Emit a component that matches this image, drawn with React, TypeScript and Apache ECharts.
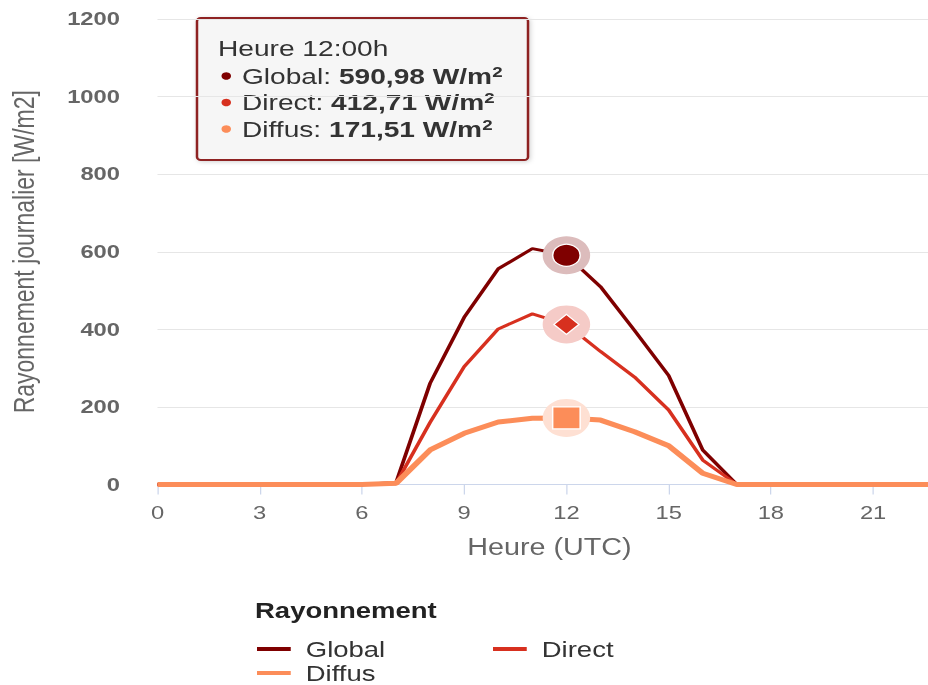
import React, { useEffect, useRef } from "react";
import * as echarts from "echarts";

const HOURS = [0, 1, 2, 3, 4, 5, 6, 7, 8, 9, 10, 11, 12, 13, 14, 15, 16, 17, 18, 19, 20, 21, 22, 23];
const GLOBAL = [0, 0, 0, 0, 0, 0, 0, 5, 261, 431, 556, 608, 590.98, 510, 397, 281, 89, 0, 0, 0, 0, 0, 0, 0];
const DIRECT = [0, 0, 0, 0, 0, 0, 0, 2, 160, 304, 401, 440, 412.71, 343, 277, 192, 63, 0, 0, 0, 0, 0, 0, 0];
const DIFFUS = [0, 0, 0, 0, 0, 0, 0, 3, 89, 132, 161, 171, 171.51, 166, 136, 100, 29, 0, 0, 0, 0, 0, 0, 0];
const NAMES = ["Global", "Direct", "Diffus"];
const COLORS = ["#7f0000", "#d7301f", "#fc8d59"];
const HALOS = ["#dcbcbc", "#f5cbc7", "#fee0d3"];
const SYMBOLS = ["circle", "diamond", "rect"];
const HIGHLIGHT = 12;
const Y_TITLE = "Rayonnement journalier [W/m2]";
const X_TITLE = "Heure (UTC)";
const LEGEND_TITLE = "Rayonnement";
const UNIT = "W/m";

const FONT = "'Liberation Sans', Arial, sans-serif";
const SX = 1.25; // horizontal stretch of the reference picture

function fmt(v: number) {
  return v.toFixed(2).replace(".", ",");
}

export default function App() {
  const ref = useRef<HTMLDivElement>(null);
  useEffect(() => {
    if (!ref.current) return;
    const chart = echarts.init(ref.current, undefined, { renderer: "svg" });
    const values = [GLOBAL, DIRECT, DIFFUS];
    const widths = [3, 3, 5];
    const lineSeries = values.map((vals, i) => ({
      name: NAMES[i],
      type: "line",
      data: HOURS.map((h, k) => [h, vals[k]]),
      symbol: "none",
      lineStyle: { color: COLORS[i], width: widths[i] },
      itemStyle: { color: COLORS[i] },
      z: 2,
    }));
    const haloSeries = values.map((vals, i) => ({
      name: NAMES[i] + "_halo",
      type: "scatter",
      data: [[HOURS[HIGHLIGHT], vals[HIGHLIGHT]]],
      symbol: "circle",
      symbolSize: 38,
      itemStyle: { color: HALOS[i], opacity: 1 },
      z: 3,
      silent: true,
    }));
    const sizes = [22, 20, 22];
    const markerSeries = values.map((vals, i) => ({
      name: NAMES[i] + "_marker",
      type: "scatter",
      data: [[HOURS[HIGHLIGHT], vals[HIGHLIGHT]]],
      symbol: SYMBOLS[i],
      symbolSize: sizes[i],
      itemStyle: { color: COLORS[i], borderColor: "#ffffff", borderWidth: 1.2, opacity: 1 },
      z: 4,
      silent: true,
    }));

    const tipChildren: any[] = [
      {
        type: "rect",
        shape: { x: 157.6, y: 18, width: 264.8, height: 142, r: 3 },
        style: {
          fill: "rgba(247,247,247,0.97)",
          stroke: "#8e2424",
          lineWidth: 2,
          shadowBlur: 4,
          shadowColor: "rgba(0,0,0,0.18)",
          shadowOffsetX: 1,
          shadowOffsetY: 1,
        },
      },
      {
        type: "text",
        x: 174.4,
        y: 48,
        style: {
          text: `Heure ${HOURS[HIGHLIGHT]}:00h`,
          fontSize: 22.5,
          fontFamily: FONT,
          fill: "#333333",
          verticalAlign: "middle",
        },
      },
    ];
    values.forEach((vals, i) => {
      tipChildren.push({
        type: "circle",
        shape: { cx: 181, cy: 76 + i * 26.5, r: 3.8 },
        style: { fill: COLORS[i] },
      });
      tipChildren.push({
        type: "text",
        x: 193.6,
        y: 76 + i * 26.5,
        style: {
          text: `{n|${NAMES[i]}: }{b|${fmt(vals[HIGHLIGHT])} ${UNIT}}{s|2}`,
          verticalAlign: "middle",
          rich: {
            n: { fontSize: 22.5, fontFamily: FONT, fill: "#333333" },
            b: { fontSize: 22.5, fontFamily: FONT, fill: "#333333", fontWeight: "bold" },
            s: { fontSize: 15, fontFamily: FONT, fill: "#333333", fontWeight: "bold", verticalAlign: "top" },
          },
        },
      });
    });

    const legendItem = (i: number, left: number, top: number) => ({
      data: [NAMES[i]],
      left,
      top,
      icon: "rect",
      itemWidth: 27,
      itemHeight: 4,
      itemGap: 0,
      padding: 0,
      textStyle: {
        fontSize: 22,
        lineHeight: 20,
        fontFamily: FONT,
        color: "#333333",
        padding: [0, 0, 0, 7],
      },
      itemStyle: { color: COLORS[i] },
      selectedMode: false,
    });

    chart.setOption({
      animation: false,
      textStyle: { fontFamily: FONT },
      grid: { left: 123.2, right: 0, top: 19, bottom: 200.5 },
      xAxis: {
        type: "value",
        min: 0,
        max: 23,
        interval: 3,
        name: X_TITLE,
        nameLocation: "middle",
        nameGap: 51,
        nameTextStyle: { fontSize: 23, color: "#666666", fontFamily: FONT },
        axisLine: { lineStyle: { color: "#ccd6eb", width: 1 } },
        axisTick: { show: true, length: 10, lineStyle: { color: "#ccd6eb" } },
        axisLabel: { fontSize: 19, color: "#666666", margin: 19, fontFamily: FONT, showMaxLabel: false },
        splitLine: { show: false },
      },
      yAxis: {
        type: "value",
        min: 0,
        max: 1200,
        interval: 200,
        name: Y_TITLE,
        nameLocation: "middle",
        nameGap: 95,
        nameTextStyle: { fontSize: 23, color: "#666666", fontFamily: FONT },
        axisLine: { show: false },
        axisTick: { show: false },
        axisLabel: {
          fontSize: 19,
          color: "#666666",
          margin: 30,
          fontFamily: FONT,
          fontWeight: "bold",
          formatter: (v: number) => String(v),
        },
        splitLine: { lineStyle: { color: "#e6e6e6", width: 1 } },
      },
      legend: [legendItem(0, 205.6, 638), legendItem(1, 394.4, 638), legendItem(2, 205.6, 662)],
      series: [...lineSeries, ...haloSeries, ...markerSeries],
      graphic: [
        { type: "group", z: 100, children: tipChildren },
        {
          type: "text",
          x: 204,
          y: 610,
          style: {
            text: LEGEND_TITLE,
            fontSize: 22,
            fontWeight: "bold",
            fontFamily: FONT,
            fill: "#222222",
            verticalAlign: "middle",
          },
        },
      ],
    });
    return () => chart.dispose();
  }, []);
  return (
    <div style={{ position: "absolute", left: 0, top: 0, width: 928, height: 685, overflow: "hidden", background: "#ffffff" }}>
      <div
        ref={ref}
        style={{ width: 753, height: 685, transform: `scaleX(${SX})`, transformOrigin: "0 0" }}
      />
    </div>
  );
}
